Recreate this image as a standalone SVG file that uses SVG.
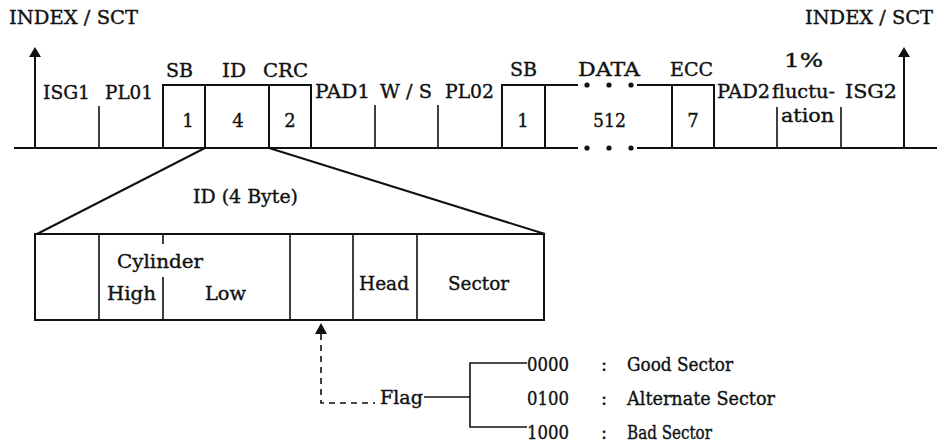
<svg xmlns="http://www.w3.org/2000/svg" width="941" height="444" viewBox="0 0 941 444">
<style>
text{font-family:"DejaVu Serif","Liberation Serif",serif;font-size:18px;fill:#111;stroke:#111;stroke-width:0.35}
.ln{stroke:#111;stroke-width:2;fill:none}
.th{stroke:#111;stroke-width:1.6;fill:none}
.ds{stroke:#111;stroke-width:1.6;fill:none;stroke-dasharray:6 5}
.dot{fill:#111}
</style>
<rect width="941" height="444" fill="#fff"/>

<g id="connectors">
<line class="ln" x1="14" y1="148" x2="578" y2="148"/>
<line class="ln" x1="637" y1="148" x2="937" y2="148"/>
<line class="ln" x1="35" y1="148" x2="35" y2="50"/>
<path d="M29,57 L35,47 L41,57 Z" fill="#111"/>
<line class="ln" x1="904" y1="148" x2="904" y2="50"/>
<path d="M898,57 L904,47 L910,57 Z" fill="#111"/>
<line class="ln" x1="205" y1="148" x2="37" y2="234"/>
<line class="ln" x1="269" y1="148" x2="545" y2="234"/>
<path class="ds" d="M321,334 V403 H375"/>
<path d="M315,334 L321,323 L327,334 Z" fill="#111"/>
<line class="th" x1="424" y1="397" x2="470" y2="397"/>
<path class="th" d="M527,363 H470 V427 H527"/>
</g>

<g id="index-left"><text x="9" y="24" textLength="129" lengthAdjust="spacingAndGlyphs">INDEX / SCT</text></g>
<g id="index-right"><text x="805" y="24" textLength="128" lengthAdjust="spacingAndGlyphs">INDEX / SCT</text></g>

<g id="isg1"><text x="43" y="99" textLength="47" lengthAdjust="spacingAndGlyphs">ISG1</text></g>
<g id="pl01"><line class="th" x1="99" y1="106" x2="99" y2="148"/><text x="105" y="99" textLength="48" lengthAdjust="spacingAndGlyphs">PL01</text></g>

<g id="sb-id-crc">
<path class="ln" d="M163,148 V85 H311 V148"/>
<line class="ln" x1="205" y1="85" x2="205" y2="148"/>
<line class="ln" x1="269" y1="85" x2="269" y2="148"/>
<text x="166" y="77" textLength="27" lengthAdjust="spacingAndGlyphs">SB</text>
<text x="222" y="77" textLength="24" lengthAdjust="spacingAndGlyphs">ID</text>
<text x="263" y="77" textLength="45" lengthAdjust="spacingAndGlyphs">CRC</text>
<text x="188" y="127" text-anchor="middle">1</text>
<text x="238" y="127" text-anchor="middle">4</text>
<text x="290" y="127" text-anchor="middle">2</text>
</g>

<g id="pad1"><text x="315" y="98" textLength="55" lengthAdjust="spacingAndGlyphs">PAD1</text></g>
<g id="ws"><line class="th" x1="375" y1="105" x2="375" y2="148"/><text x="380" y="98" textLength="52" lengthAdjust="spacingAndGlyphs">W / S</text></g>
<g id="pl02"><line class="th" x1="438" y1="105" x2="438" y2="148"/><text x="445" y="98" textLength="49" lengthAdjust="spacingAndGlyphs">PL02</text></g>

<g id="sb2">
<path class="ln" d="M502,148 V85 H578"/>
<line class="ln" x1="545" y1="85" x2="545" y2="148"/>
<text x="510" y="76" textLength="27" lengthAdjust="spacingAndGlyphs">SB</text>
<text x="523" y="127" text-anchor="middle">1</text>
</g>

<g id="data">
<circle class="dot" cx="587" cy="85" r="2.6"/><circle class="dot" cx="609" cy="85" r="2.6"/><circle class="dot" cx="631" cy="85" r="2.6"/>
<circle class="dot" cx="587" cy="148" r="2.6"/><circle class="dot" cx="609" cy="148" r="2.6"/><circle class="dot" cx="631" cy="148" r="2.6"/>
<text x="578" y="76" textLength="62" lengthAdjust="spacingAndGlyphs">DATA</text>
<text x="593" y="127" textLength="33" lengthAdjust="spacingAndGlyphs">512</text>
</g>

<g id="ecc">
<path class="ln" d="M637,85 H714 V148"/>
<line class="ln" x1="672" y1="85" x2="672" y2="148"/>
<text x="670" y="76" textLength="43" lengthAdjust="spacingAndGlyphs">ECC</text>
<text x="693" y="127" text-anchor="middle">7</text>
</g>

<g id="pad2"><text x="717" y="98" textLength="53" lengthAdjust="spacingAndGlyphs">PAD2</text></g>
<g id="fluctuation">
<line class="th" x1="777" y1="107" x2="777" y2="148"/>
<line class="th" x1="841" y1="107" x2="841" y2="148"/>
<text x="784" y="67" textLength="39" lengthAdjust="spacingAndGlyphs">1%</text>
<text x="772" y="98" textLength="63" lengthAdjust="spacingAndGlyphs">fluctu-</text>
<text x="781" y="122" textLength="53" lengthAdjust="spacingAndGlyphs">ation</text>
</g>
<g id="isg2"><text x="845" y="98" textLength="52" lengthAdjust="spacingAndGlyphs">ISG2</text></g>

<g id="id-4byte">
<text x="193" y="203" textLength="105" lengthAdjust="spacingAndGlyphs">ID (4 Byte)</text>
<rect class="ln" x="35" y="234" width="509" height="86"/>
<line class="th" x1="99" y1="234" x2="99" y2="320"/>
<line class="th" x1="163" y1="234" x2="163" y2="244"/>
<line class="th" x1="163" y1="277" x2="163" y2="320"/>
<line class="th" x1="290" y1="234" x2="290" y2="320"/>
<line class="th" x1="353" y1="234" x2="353" y2="320"/>
<line class="th" x1="417" y1="234" x2="417" y2="320"/>
<text x="117" y="268" textLength="86" lengthAdjust="spacingAndGlyphs">Cylinder</text>
<text x="107" y="300" textLength="49" lengthAdjust="spacingAndGlyphs">High</text>
<text x="205" y="300" textLength="41" lengthAdjust="spacingAndGlyphs">Low</text>
<text x="359" y="290" textLength="50" lengthAdjust="spacingAndGlyphs">Head</text>
<text x="448" y="290" textLength="61" lengthAdjust="spacingAndGlyphs">Sector</text>
</g>

<g id="flag"><text x="380" y="404" textLength="43" lengthAdjust="spacingAndGlyphs">Flag</text></g>

<g id="flag-values">
<text x="527" y="371" textLength="42" lengthAdjust="spacingAndGlyphs">0000</text>
<text x="527" y="405" textLength="42" lengthAdjust="spacingAndGlyphs">0100</text>
<text x="527" y="439" textLength="42" lengthAdjust="spacingAndGlyphs">1000</text>
<text x="601" y="371">:</text>
<text x="601" y="405">:</text>
<text x="601" y="439">:</text>
<text x="627" y="371" textLength="106" lengthAdjust="spacingAndGlyphs">Good Sector</text>
<text x="627" y="405" textLength="148" lengthAdjust="spacingAndGlyphs">Alternate Sector</text>
<text x="627" y="439" textLength="85" lengthAdjust="spacingAndGlyphs">Bad Sector</text>
</g>
</svg>
